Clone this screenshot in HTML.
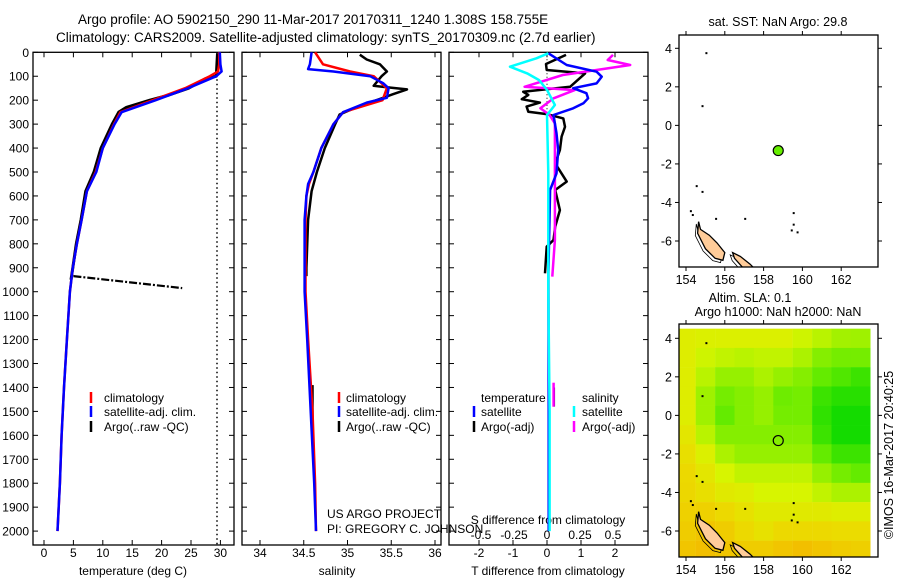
<!DOCTYPE html>
<html><head><meta charset="utf-8">
<style>
html,body{margin:0;padding:0;background:#fff;}
svg{display:block;font-family:"Liberation Sans",sans-serif;}
text{fill:#000;}
</style></head>
<body>
<svg id="fig" width="900" height="580" viewBox="0 0 900 580" xmlns="http://www.w3.org/2000/svg">
<text x="78" y="24" font-size="13.5">Argo profile: AO 5902150_290 11-Mar-2017 20170311_1240 1.308S 158.755E</text>
<text x="56" y="42" font-size="13.5">Climatology: CARS2009. Satellite-adjusted climatology: synTS_20170309.nc (2.7d earlier)</text>
<g id="g"></g>
</svg>
<script>
// ---------- data ----------
const depthTicks=[0,100,200,300,400,500,600,700,800,900,1000,1100,1200,1300,1400,1500,1600,1700,1800,1900,2000];
const tempTicks=[0,5,10,15,20,25,30];
const salTicks=[34,34.5,35,35.5,36];
const tdiffTicks=[-2,-1,0,1,2];
const sdiffTicks=[-0.5,-0.25,0,0.25,0.5];
const sdiffTickLabels=["-0.5","-0.25","0","0.25","0.5"];

const climDepth=[0,50,80,100,150,200,250,300,400,500,580,700,800,900,1000,1200,1400,1600,1800,2000];
const climTemp=[29.8,29.8,29.6,28.2,24,18.5,13,11.9,10,8.8,7.3,6.4,5.6,4.9,4.4,3.9,3.4,3,2.7,2.3];
const satTemp=[29.9,30.0,30.2,29.3,24.5,19,13.2,12,10,8.9,7.3,6.4,5.6,4.9,4.4,3.9,3.4,3,2.7,2.3];
const argoDepth=[5,50,100,110,150,180,200,230,250,300,400,500,580,700,800,900,950];
const argoTemp=[29.5,29.4,29.3,27.5,24.6,21,18,14,12.7,11.6,9.7,8.5,7.1,6.3,5.5,4.9,4.6];
const spikeDepth=[935,985];
const spikeTemp=[5,23.5];

const climSalDepth=[0,50,80,100,150,200,250,300,400,500,550,600,700,1000,1200,1500,1800,2000];
const climSal=[34.63,34.72,35.03,35.3,35.45,35.4,34.95,34.84,34.7,34.61,34.56,34.53,34.52,34.52,34.55,34.6,34.63,34.64];
const satSalDepth=[0,50,70,80,100,130,150,190,210,250,300,400,500,550,600,700,1000,1200,1500,1800,2000];
const satSal=[34.59,34.57,34.55,34.84,35.26,35.41,35.47,35.45,35.22,34.95,34.84,34.7,34.61,34.55,34.53,34.51,34.51,34.54,34.58,34.62,34.64];
const argoSalDepth=[10,30,50,80,100,140,155,175,200,230,260,300,400,500,580,700,900,935];
const argoSal=[35.14,35.22,35.37,35.45,35.39,35.3,35.68,35.52,35.33,35.1,34.91,34.86,34.74,34.65,34.59,34.55,34.53,34.53];

const dTdepthSat=[4,53,81,102,130,150,171,192,213,234,262,338,408,506,575,922,1500,2000];
const dTsat=[0.04,0.58,1.46,1.61,1.46,0.77,1.16,1.21,1.07,0.77,0.19,0.28,0.33,0.28,0.09,0.04,0.05,0.05];
const dTdepthArgo=[11,49,74,88,144,165,178,196,210,227,248,258,276,311,352,408,464,540,575,659,728,784,812,923];
const dTargo=[0.56,-0.03,-0.01,1.12,0.68,-0.7,-0.55,-0.74,-0.21,-0.6,-0.55,-0.01,0.48,0.53,0.43,0.38,0.24,0.58,0.24,0.38,0.24,0.19,-0.01,-0.06];
const dSdepthSat=[4,25,60,88,116,157,220,262,505,993,1500,2000];
const dSsat=[0.01,-0.08,-0.28,-0.15,-0.06,0,0.06,0,0.01,0.01,0.02,0.02];
const dSdepthArgo=[11,32,53,95,144,158,192,234,262,297,575,784,937];
const dSargo=[0.5,0.46,0.63,0.12,-0.17,0.21,0.05,-0.05,0.02,0.06,0.06,0.06,0.04];

const mapLonTicks=[154,156,158,160,162];
const mapLatTicks=[4,2,0,-2,-4,-6];
const argoLon=158.755, argoLat=-1.308;
const slaLats=[4,3,2,1,0,-1,-2,-3,-4,-5,-6,-7];
const slaLons=[154,155,156,157,158,159,160,161,162,163];
const slaGrid=[
[0.4,0.42,0.42,0.42,0.42,0.42,0.47,0.52,0.57,0.58],
[0.4,0.47,0.5,0.52,0.5,0.5,0.55,0.65,0.7,0.7],
[0.4,0.52,0.6,0.6,0.55,0.6,0.65,0.75,0.8,0.85],
[0.4,0.58,0.7,0.65,0.6,0.72,0.7,0.85,0.9,0.9],
[0.4,0.58,0.75,0.65,0.6,0.7,0.7,0.88,0.95,0.95],
[0.36,0.52,0.65,0.65,0.65,0.65,0.65,0.85,0.95,0.95],
[0.32,0.42,0.55,0.6,0.6,0.6,0.6,0.75,0.85,0.85],
[0.28,0.36,0.45,0.5,0.5,0.5,0.5,0.6,0.7,0.75],
[0.26,0.32,0.38,0.4,0.45,0.45,0.45,0.5,0.55,0.55],
[0.22,0.22,0.28,0.33,0.38,0.38,0.38,0.38,0.4,0.4],
[0.18,0.13,0.18,0.28,0.33,0.28,0.28,0.28,0.3,0.3],
[0.13,0.08,0.13,0.18,0.18,0.13,0.08,0.13,0.18,0.2]];
const island1Lon=[154.65,154.75,155.2,155.6,156.0,155.9,155.5,155.0,154.6];
const island1Lat=[-5.0,-5.4,-5.7,-6.1,-6.6,-7.0,-6.9,-6.4,-5.6];
const island2Lon=[156.4,156.8,157.3,157.5,156.9,156.5];
const island2Lat=[-6.6,-6.8,-7.2,-7.4,-7.35,-6.9];

// ---------- helpers ----------
const NS="http://www.w3.org/2000/svg";
const G=document.getElementById('g');
function mk(tag,attrs,parent){const e=document.createElementNS(NS,tag);for(const k in attrs)e.setAttribute(k,attrs[k]);(parent||G).appendChild(e);return e;}
const TOP=52.3, BOT=545, yD=d=>TOP+d*0.2394;
const xT=t=>44+t*5.88;
const xS=s=>260+(s-34)*87.5;
const xDT=t=>547+t*34;
const xDS=s=>547+s*132;
function path(xs,ys,fx,fy){return xs.map((v,i)=>(i?'L':'M')+fx(v).toFixed(1)+','+fy(ys[i]).toFixed(1)).join('');}
function line(name,vals,depths,fx,color,w,dash){
  const p=mk('path',{d:path(vals,depths,fx,yD),fill:'none',stroke:color,'stroke-width':w||2.5,'stroke-linejoin':'round'});
  if(dash)p.setAttribute('stroke-dasharray',dash);
  
  
}
function txt(name,x,y,s,size,anchor,extra){
  const t=mk('text',{x:x,y:y,'font-size':size||12,'text-anchor':anchor||'start'});
  t.textContent=s;
  
  
  if(extra)for(const k in extra)t.setAttribute(k,extra[k]);
  return t;
}
function panel(name,x0,x1){
  const r=mk('rect',{x:x0,y:TOP,width:x1-x0,height:BOT-TOP,fill:'none',stroke:'#000','stroke-width':1.3});
  
  
  depthTicks.forEach(d=>{mk('line',{x1:x0,x2:x0+5,y1:yD(d),y2:yD(d),stroke:'#000'});mk('line',{x1:x1-5,x2:x1,y1:yD(d),y2:yD(d),stroke:'#000'});});
}
function xticks(vals,fx,labels,ly,name){
  vals.forEach((v,i)=>{const x=fx(v);mk('line',{x1:x,x2:x,y1:TOP,y2:TOP+5,stroke:'#000'});mk('line',{x1:x,x2:x,y1:BOT-5,y2:BOT,stroke:'#000'});
    txt(name,x,ly,labels?labels[i]:String(v),12,'middle');});
}
function legBar(name,x,y,color){
  const l=mk('line',{x1:x,x2:x,y1:y-11,y2:y,stroke:color,'stroke-width':2.5});
  
  
}

// ---------- panel 1: temperature ----------
panel('temperature-panel',33,234);
depthTicks.forEach(d=>txt('depth-tick-label',29,yD(d)+4.5,String(d),12,'end'));
xticks(tempTicks,xT,null,557,'temperature-tick-label');
txt('temperature-axis-title',133,575,'temperature (deg C)',12,'middle');
mk('line',{x1:217,x2:217,y1:TOP,y2:BOT,stroke:'#000','stroke-width':1.5,'stroke-dasharray':'1.5,3'});
line('argo-temperature-spike',spikeTemp,spikeDepth,xT,'#000',2.2,'8,2,2,2');
line('argo-temperature-line',argoTemp,argoDepth,xT,'#000',3);
line('climatology-temperature-line',climTemp,climDepth,xT,'#f00',2.5);
line('satellite-temperature-line',satTemp,climDepth,xT,'#00f',2.5);
legBar('legend-climatology-swatch',91,403,'#f00');txt('legend-climatology',104,402,'climatology');
legBar('legend-satellite-swatch',91,417,'#00f');txt('legend-satellite',104,416,'satellite-adj. clim.');
legBar('legend-argo-swatch',91,432,'#000');txt('legend-argo',104,431,'Argo(..raw -QC)');

// ---------- panel 2: salinity ----------
panel('salinity-panel',242,441);
xticks(salTicks,xS,null,557,'salinity-tick-label');
txt('salinity-axis-title',337,575,'salinity',12,'middle');
line('argo-salinity-line',argoSal,argoSalDepth,xS,'#000',2.5);
line('argo-salinity-deep',[34.6,34.6],[1390,1600],xS,'#000',2.5);
line('climatology-salinity-line',climSal,climSalDepth,xS,'#f00',2.5);
line('satellite-salinity-line',satSal,satSalDepth,xS,'#00f',2.5);
legBar('legend2-climatology-swatch',339,403,'#f00');txt('legend2-climatology',346,402,'climatology');
legBar('legend2-satellite-swatch',339,417,'#00f');txt('legend2-satellite',346,416,'satellite-adj. clim.');
legBar('legend2-argo-swatch',339,432,'#000');txt('legend2-argo',346,431,'Argo(..raw -QC)');
txt('project-label',327,518,'US ARGO PROJECT');
txt('pi-label',327,533,'PI: GREGORY C. JOHNSON');

// ---------- panel 3: differences ----------
panel('difference-panel',449,648);
xticks(tdiffTicks,xDT,null,557,'t-diff-tick-label');
txt('t-diff-axis-title',548,575,'T difference from climatology',12,'middle');
sdiffTicks.forEach((v,i)=>txt('s-diff-tick-label',xDS(v),539,sdiffTickLabels[i],12,'middle'));
txt('s-diff-axis-title',548,524,'S difference from climatology',12,'middle');
mk('line',{x1:547,x2:547,y1:TOP,y2:130,stroke:'#000','stroke-width':1,'stroke-dasharray':'1,2.5'});
line('argo-t-diff-line',dTargo,dTdepthArgo,xDT,'#000',2.5);
line('argo-t-diff-deep',[0.2,0.2],[1400,1480],xDT,'#000',2.5);
line('argo-s-diff-line',dSargo,dSdepthArgo,xDS,'#f0f',2.5);
line('argo-s-diff-deep',[0.05,0.05],[1380,1480],xDS,'#f0f',2.5);
line('satellite-t-diff-line',dTsat,dTdepthSat,xDT,'#00f',2.5);
line('satellite-s-diff-line',dSsat,dSdepthSat,xDS,'#0ff',2.5);
txt('legend3-temperature-header',481,402,'temperature');
txt('legend3-salinity-header',582,402,'salinity');
legBar('legend3-t-satellite-swatch',474,417,'#00f');txt('legend3-t-satellite',481,416,'satellite');
legBar('legend3-t-argo-swatch',474,432,'#000');txt('legend3-t-argo',481,431,'Argo(-adj)');
legBar('legend3-s-satellite-swatch',574,417,'#0ff');txt('legend3-s-satellite',582,416,'satellite');
legBar('legend3-s-argo-swatch',574,432,'#f0f');txt('legend3-s-argo',582,431,'Argo(-adj)');

// ---------- maps ----------
const mx=lon=>686+(lon-154)*19.4;
function slaColor(v){
  const stops=[[0,[245,180,0]],[0.3,[235,220,0]],[0.45,[215,245,0]],[0.6,[150,240,0]],[0.75,[100,235,0]],[1,[0,215,0]]];
  for(let i=1;i<stops.length;i++){if(v<=stops[i][0]){const a=stops[i-1],b=stops[i],f=(v-a[0])/(b[0]-a[0]);
    return 'rgb('+a[1].map((c,k)=>Math.round(c+(b[1][k]-c)*f)).join(',')+')';}}
  return 'rgb(0,215,0)';
}
function map(prefix,top,bottom,y4,withSla){
  const my=lat=>y4+(4-lat)*19.27;
  const clip='clip-'+prefix;
  const cp=mk('clipPath',{id:clip});mk('rect',{x:679,y:top,width:199,height:bottom-top},cp);
  const g=mk('g',{'clip-path':'url(#'+clip+')'});
  
  
  if(withSla){
    slaLats.forEach((lat,r)=>slaLons.forEach((lon,c)=>{
      const cell=mk('rect',{x:mx(lon-0.5),y:my(lat+0.5),width:19.6,height:19.5,fill:slaColor(slaGrid[r][c])},g);
      
      
    }));
  }
  [[island1Lon,island1Lat],[island2Lon,island2Lat]].forEach(([lo,la])=>{
    const pts=lo.map((v,i)=>mx(v).toFixed(1)+','+my(la[i]).toFixed(1)).join(' ');
    const ol=lo.map((v,i)=>mx(v-0.12).toFixed(1)+','+my(la[i]-0.12).toFixed(1)).join(' ');
    mk('polygon',{points:ol,fill:'none',stroke:'#000','stroke-width':0.8},g);
    const isl=mk('polygon',{points:pts,fill:'#ffcc99',stroke:'#000','stroke-width':1.3},g);
    
    
  });
  [[155,3.8],[154.8,1.05],[154.5,-3.1],[154.8,-3.4],[154.2,-4.4],[154.3,-4.6],[155.5,-4.8],[157,-4.8],[159.5,-4.5],[159.5,-5.1],[159.7,-5.5],[159.4,-5.4]].forEach(([lo,la])=>mk('rect',{x:mx(lo),y:my(la),width:2,height:2,fill:'#000'},g));
  const fr=mk('rect',{x:679,y:top,width:199,height:bottom-top,fill:'none',stroke:'#000','stroke-width':1.3});
  
  
  mapLonTicks.forEach(l=>{const x=mx(l);mk('line',{x1:x,x2:x,y1:top-4,y2:top,stroke:'#000'});mk('line',{x1:x,x2:x,y1:bottom,y2:bottom+4,stroke:'#000'});txt(prefix+'-lon-label',x,bottom+17,String(l),12.5,'middle');});
  mapLatTicks.forEach(l=>{const y=my(l);mk('line',{x1:675,x2:679,y1:y,y2:y,stroke:'#000'});mk('line',{x1:878,x2:882,y1:y,y2:y,stroke:'#000'});txt(prefix+'-lat-label',672,y+4.5,String(l),12.5,'end');});
  const dot=mk('circle',{cx:mx(argoLon),cy:my(argoLat),r:5,fill:withSla?'none':'#66ee00',stroke:'#000','stroke-width':1.2});
  
  
}
txt('sst-map-title',778,26,'sat. SST: NaN Argo: 29.8',12.5,'middle');
map('sst',35,267,48.3,false);
txt('sla-map-title',750,302,'Altim. SLA: 0.1',12.5,'middle');
txt('sla-map-subtitle',778,316,'Argo h1000: NaN h2000: NaN',12.5,'middle');
map('sla',324,557,338.3,true);
txt('imos-timestamp',893,455,'\u00A9IMOS 16-Mar-2017 20:40:25',12.5,'middle',{transform:'rotate(-90 893 455)'});
</script>
</body></html>
